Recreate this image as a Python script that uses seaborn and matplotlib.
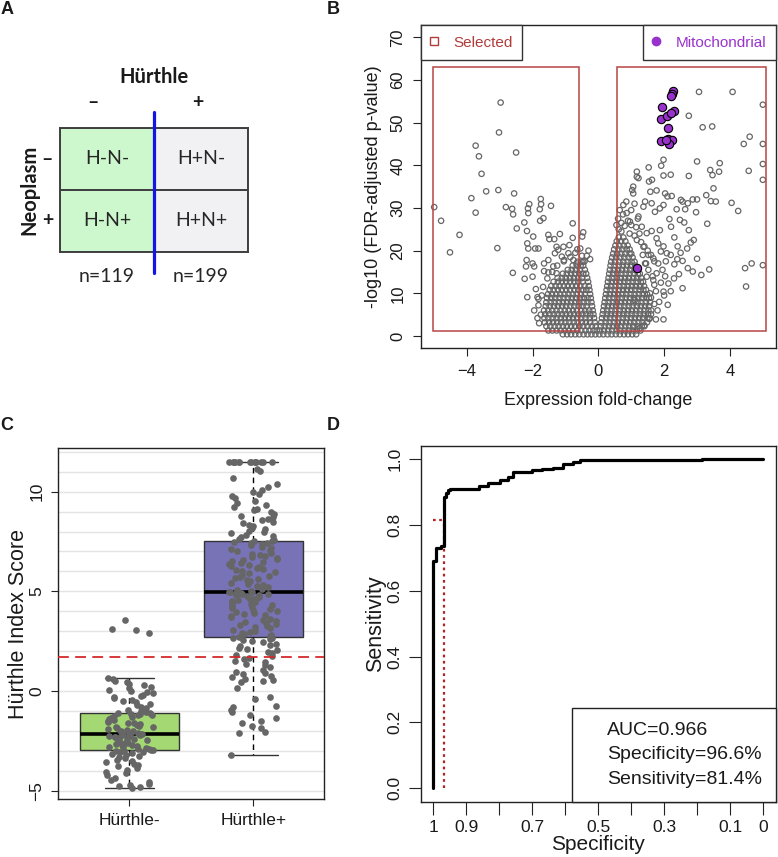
import numpy as np
import pandas as pd
import seaborn as sns
import matplotlib.pyplot as plt
from matplotlib.patches import Rectangle
from matplotlib.lines import Line2D
from matplotlib.colors import ListedColormap
from matplotlib.ticker import MultipleLocator

# ---- panel A: Hurthle / neoplasm design table
design_rows = ['–', '+']
design_cols = ['–', '+']
design_labels = [['H-N-', 'H+N-'], ['H-N+', 'H+N+']]
design_group = [[0, 1], [0, 1]]
design_n = ['n=119', 'n=199']

# ---- panel B: volcano plot (fold-change, -log10 FDR)
outlier_genes = [
    (-4.99, 30.2), (-4.78, 27.0), (-4.22, 23.7), (-4.51, 19.6), (-2.97, 54.7), (-3.02, 47.7),
    (-3.73, 44.6), (-3.63, 42.1), (-2.50, 43.0), (-3.55, 38.0), (-3.41, 33.9), (-3.04, 34.2),
    (-2.56, 33.4), (-3.86, 32.3), (-3.73, 28.9), (-3.07, 20.6), (-2.81, 30.2), (-2.62, 29.8),
    (-2.59, 28.5), (-2.48, 25.2), (-2.25, 26.6), (-2.13, 28.8), (-2.14, 29.9), (-2.10, 30.9),
    (-1.75, 32.1), (-1.74, 30.9), (-1.78, 29.7), (-1.44, 30.5), (-1.77, 27.0), (-1.67, 27.6),
    (-2.17, 24.6), (-1.98, 23.3), (-2.16, 21.7), (-2.13, 20.5), (-1.82, 20.5), (-1.52, 23.7),
    (-1.49, 22.7), (-1.34, 22.7), (-1.17, 23.9), (-0.78, 26.4), (-0.78, 23.0), (-0.46, 24.3),
    (-0.49, 23.3), (-0.64, 20.3), (-2.18, 17.8), (-2.20, 16.3), (-2.00, 17.0), (-1.95, 16.3),
    (-2.60, 14.8), (-2.24, 13.4), (-2.00, 13.9), (-2.16, 9.1), (-1.85, 9.1), (-1.82, 8.7),
    (-1.65, 17.0), (-1.65, 15.2), (-1.52, 14.9), (-1.27, 20.9), (-1.22, 20.2), (-1.11, 18.6),
    (-1.04, 17.8), (-0.91, 19.4), (-0.88, 21.3), (-0.66, 17.0), (-0.76, 17.8), (-0.46, 17.4),
    (-0.35, 18.8), (-1.52, 17.8), (-1.37, 16.3), (-1.27, 14.7), (-1.92, 20.5), (-1.32, 19.4),
    (-1.06, 20.9), (-1.80, 3.0), (-1.75, 5.0), (-1.82, 7.2), (-1.72, 9.5), (-1.68, 11.5),
    (-1.55, 13.5), (-1.40, 15.0), (-1.25, 16.5), (-1.05, 17.5), (-0.85, 18.5), (-0.70, 19.5),
    (-0.55, 20.5), (-0.50, 18.8), (-0.42, 17.5), (-1.90, 11.0), (-1.95, 6.0), (-1.85, 4.2),
    (-0.30, 20.0), (-0.25, 18.0),
    (3.06, 57.2), (4.08, 57.2), (5.00, 54.2), (2.75, 51.6), (3.17, 48.9), (3.46, 49.1),
    (4.60, 46.7), (4.42, 45.0), (5.00, 45.0), (5.00, 40.3), (5.00, 36.6), (4.57, 38.7),
    (3.00, 40.9), (3.69, 40.5), (3.40, 38.9), (3.67, 38.5), (3.47, 37.7), (2.75, 37.5),
    (1.98, 41.3), (1.91, 39.9), (2.20, 37.8), (1.98, 37.6), (1.53, 39.5), (1.17, 38.5),
    (1.17, 37.3), (1.22, 37.0), (1.06, 35.0), (1.03, 34.2), (1.06, 33.4), (1.54, 36.2),
    (1.63, 36.6), (1.58, 33.8), (1.77, 34.1), (2.03, 33.4), (2.10, 32.7), (2.23, 32.8),
    (2.51, 31.9), (2.56, 31.5), (2.72, 31.1), (2.87, 32.0), (3.00, 32.0), (3.28, 33.0),
    (3.50, 34.6), (3.42, 31.6), (3.57, 31.5), (4.05, 31.2), (4.25, 29.3), (2.97, 29.0),
    (3.31, 26.3), (2.75, 24.8), (2.81, 21.9), (2.38, 29.7), (2.64, 29.7), (2.48, 27.2),
    (2.61, 26.6), (2.16, 27.4), (2.21, 25.6), (2.31, 23.1), (2.41, 21.0), (1.98, 21.0),
    (2.08, 19.4), (2.31, 16.8), (2.56, 17.6), (2.72, 15.9), (2.87, 15.1), (3.00, 18.1),
    (3.13, 14.3), (3.37, 15.6), (2.56, 11.2), (2.11, 7.3), (1.75, 3.9), (1.98, 3.9),
    (4.49, 11.6), (4.46, 15.9), (4.66, 17.0), (5.00, 16.6), (1.62, 24.6), (1.77, 22.9),
    (1.87, 24.8), (1.82, 21.7), (1.37, 30.3), (1.42, 31.5), (1.62, 31.1), (1.72, 29.1),
    (1.87, 29.9), (1.98, 30.7), (0.76, 30.7), (0.86, 28.8), (0.96, 26.8), (1.22, 28.0),
    (1.32, 25.6), (1.47, 24.1), (1.17, 22.5), (1.37, 20.9), (1.52, 19.0), (1.67, 18.2),
    (1.82, 17.0), (1.95, 15.5), (2.03, 14.0), (2.13, 12.3), (1.98, 10.4), (1.57, 10.0),
    (1.67, 13.1), (1.77, 14.7), (1.52, 15.5), (1.42, 17.0), (1.47, 13.9), (1.27, 11.6),
    (1.11, 8.4), (1.06, 2.2), (0.55, 26.0), (0.62, 25.0), (0.70, 24.5), (0.80, 25.8),
    (0.90, 27.0), (0.75, 28.5), (0.65, 29.5), (1.00, 26.0), (0.95, 24.0), (1.10, 23.5),
    (1.15, 25.5), (1.25, 24.0), (1.30, 22.0), (1.40, 21.0), (1.50, 20.0), (1.60, 19.0),
    (1.70, 17.5), (1.35, 19.0), (1.45, 17.0), (1.65, 14.0), (1.70, 12.0), (1.75, 10.5),
    (1.60, 9.0), (1.70, 7.5), (1.80, 6.0), (1.55, 4.0), (1.40, 2.5), (1.25, 1.8),
    (1.85, 8.0), (1.90, 12.5), (2.00, 9.5), (2.20, 10.5), (2.30, 13.5), (2.45, 14.5),
    (2.50, 19.5), (2.70, 20.5), (2.90, 22.5), (2.20, 19.0), (1.90, 19.8), (2.05, 17.5),
    (2.40, 18.0), (1.20, 27.5), (0.85, 31.5), (1.00, 29.5), (1.10, 31.0), (0.60, 27.5),
    (0.70, 26.5),
]
# dense centre of the volcano, read row by row (-log10 p, fold-changes)
core_p = [0.4, 1.3, 2.3, 3.2, 4.2, 5.1, 6.0, 7.0, 7.9, 8.9, 9.8, 10.8, 11.7,
          12.7, 13.6, 14.6, 15.5, 16.5, 17.4, 18.4, 19.3, 20.3, 21.2, 22.2, 23.1]
core_fc_left = [
    [-1.08, -0.95, -0.83, -0.70, -0.58, -0.45, -0.33, -0.21, -0.09],
    [-1.52, -1.40, -1.27, -1.15, -1.02, -0.90, -0.77, -0.64, -0.52, -0.39, -0.27, -0.15, -0.05],
    [-1.58, -1.46, -1.33, -1.21, -1.08, -0.96, -0.83, -0.71, -0.58, -0.46, -0.33, -0.20, -0.08],
    [-1.63, -1.50, -1.38, -1.25, -1.13, -1.00, -0.88, -0.75, -0.63, -0.50, -0.38, -0.25, -0.11],
    [-1.64, -1.52, -1.39, -1.27, -1.14, -1.02, -0.89, -0.77, -0.64, -0.52, -0.39, -0.26, -0.13],
    [-1.62, -1.49, -1.36, -1.24, -1.11, -0.99, -0.86, -0.74, -0.61, -0.49, -0.37, -0.25, -0.15],
    [-1.65, -1.52, -1.40, -1.27, -1.15, -1.02, -0.90, -0.77, -0.65, -0.52, -0.40, -0.28, -0.17],
    [-1.60, -1.48, -1.35, -1.23, -1.10, -0.98, -0.85, -0.73, -0.60, -0.48, -0.36, -0.19],
    [-1.58, -1.45, -1.33, -1.20, -1.08, -0.95, -0.83, -0.70, -0.58, -0.45, -0.33, -0.21],
    [-1.56, -1.43, -1.31, -1.18, -1.06, -0.93, -0.81, -0.68, -0.56, -0.44, -0.33, -0.23],
    [-1.53, -1.41, -1.28, -1.16, -1.03, -0.91, -0.78, -0.66, -0.53, -0.41, -0.25],
    [-1.48, -1.36, -1.23, -1.11, -0.98, -0.86, -0.73, -0.61, -0.48, -0.37, -0.27],
    [-1.43, -1.30, -1.18, -1.05, -0.93, -0.80, -0.68, -0.55, -0.42, -0.29],
    [-1.36, -1.23, -1.11, -0.98, -0.86, -0.73, -0.61, -0.48, -0.31],
    [-1.24, -1.11, -0.99, -0.86, -0.74, -0.61, -0.49, -0.34],
    [-1.08, -0.96, -0.83, -0.71, -0.58, -0.46, -0.37],
    [-0.93, -0.81, -0.68, -0.56, -0.41],
    [-0.78, -0.66, -0.54, -0.46],
    [-0.63, -0.51],
    [], [], [], [], [], [],
]
core_fc_right = [
    [0.03, 0.15, 0.28, 0.40, 0.53, 0.65, 0.78, 0.90, 1.03, 1.15],
    [0.05, 0.17, 0.30, 0.42, 0.55, 0.67, 0.80, 0.92, 1.05, 1.17, 1.28],
    [0.07, 0.19, 0.32, 0.44, 0.57, 0.69, 0.82, 0.94, 1.07, 1.19, 1.32, 1.40],
    [0.09, 0.22, 0.34, 0.47, 0.59, 0.72, 0.84, 0.97, 1.09, 1.22, 1.34, 1.48],
    [0.11, 0.24, 0.36, 0.49, 0.61, 0.74, 0.86, 0.99, 1.11, 1.24, 1.36, 1.49, 1.56],
    [0.13, 0.26, 0.38, 0.51, 0.63, 0.76, 0.88, 1.01, 1.13, 1.26, 1.38, 1.51, 1.60],
    [0.15, 0.27, 0.40, 0.52, 0.65, 0.77, 0.90, 1.02, 1.15, 1.27, 1.40, 1.52, 1.61],
    [0.17, 0.29, 0.42, 0.54, 0.67, 0.79, 0.92, 1.04, 1.17, 1.29, 1.42, 1.54],
    [0.19, 0.31, 0.44, 0.56, 0.69, 0.81, 0.94, 1.06, 1.19, 1.31, 1.44, 1.57],
    [0.21, 0.33, 0.46, 0.58, 0.71, 0.83, 0.96, 1.08, 1.21, 1.33, 1.46, 1.54],
    [0.23, 0.35, 0.48, 0.60, 0.73, 0.85, 0.98, 1.10, 1.23, 1.35, 1.48],
    [0.25, 0.37, 0.50, 0.62, 0.75, 0.87, 1.00, 1.12, 1.25, 1.37, 1.45],
    [0.27, 0.39, 0.52, 0.64, 0.77, 0.89, 1.02, 1.14, 1.27, 1.39],
    [0.29, 0.41, 0.54, 0.66, 0.79, 0.91, 1.04, 1.16, 1.29, 1.36],
    [0.31, 0.43, 0.56, 0.68, 0.81, 0.93, 1.06, 1.18, 1.30],
    [0.33, 0.45, 0.58, 0.70, 0.83, 0.95, 1.08, 1.20, 1.26],
    [0.35, 0.47, 0.60, 0.72, 0.85, 0.97, 1.10, 1.20],
    [0.37, 0.49, 0.62, 0.74, 0.87, 0.99, 1.12],
    [0.39, 0.51, 0.64, 0.76, 0.89, 1.01, 1.10],
    [0.42, 0.54, 0.67, 0.79, 0.92, 1.04],
    [0.45, 0.57, 0.70, 0.82, 0.95, 1.00],
    [0.48, 0.61, 0.73, 0.86, 0.95],
    [0.52, 0.64, 0.77, 0.89],
    [0.56, 0.69, 0.82],
    [0.62, 0.76],
]
mito_genes = [
    (2.28, 57.3), (2.25, 56.6), (2.21, 56.2), (1.93, 53.7), (1.90, 50.9), (2.10, 51.6),
    (2.31, 52.7), (2.20, 52.2), (2.11, 48.7), (1.91, 45.8), (2.13, 46.2), (2.25, 46.0),
    (2.15, 45.0), (2.06, 45.9), (1.17, 15.9),
]
sel_fc = [(-5.02, -0.58), (0.58, 5.10)]
sel_p = (1.17, 63.0)

# ---- panel C: Hurthle index score
score_neg = [
    -4.85, -4.80, -4.77, -4.71, -4.64, -4.55, -4.46, -4.37, -4.21, -4.09, -4.03, -3.94,
    -3.86, -3.77, -3.70, -3.63, -3.56, -3.49, -3.43, -3.37, -3.31, -3.25, -3.20, -3.15,
    -3.11, -3.07, -3.03, -3.00, -2.98, -2.96, -2.95, -2.91, -2.88, -2.85, -2.81, -2.78,
    -2.74, -2.71, -2.68, -2.64, -2.61, -2.58, -2.55, -2.51, -2.48, -2.45, -2.42, -2.39,
    -2.36, -2.33, -2.30, -2.28, -2.25, -2.23, -2.21, -2.19, -2.18, -2.17, -2.16, -2.15,
    -2.13, -2.10, -2.06, -2.02, -1.98, -1.94, -1.90, -1.86, -1.82, -1.78, -1.74, -1.70,
    -1.66, -1.62, -1.58, -1.54, -1.50, -1.46, -1.42, -1.38, -1.34, -1.30, -1.26, -1.22,
    -1.18, -1.15, -1.13, -1.11, -1.09, -1.07, -1.00, -0.93, -0.85, -0.78, -0.70, -0.62,
    -0.55, -0.48, -0.42, -0.36, -0.30, -0.24, -0.17, -0.10, -0.04, 0.02, 0.08, 0.15,
    0.22, 0.30, 0.38, 0.45, 0.52, 0.60, 0.65, 2.90, 3.08, 3.12, 3.55,
]
score_pos = [
    -3.18, -2.12, -2.05, -1.85, -1.75, -1.62, -1.48, -1.35, -1.20, -1.05, -0.95, -0.80,
    -0.72, -0.40, -0.30, 0.18, 0.45, 0.52, 0.58, 0.62, 0.70, 0.75, 0.88, 0.92, 0.95,
    1.05, 1.22, 1.30, 1.38, 1.45, 1.52, 1.60, 1.68, 1.75, 1.82, 1.90, 1.98, 2.05, 2.12,
    2.18, 2.25, 2.30, 2.38, 2.44, 2.50, 2.55, 2.60, 2.64, 2.68, 2.72,
    2.74, 2.80, 2.85, 2.90, 2.96, 3.02, 3.08, 3.14, 3.20, 3.25, 3.30, 3.36, 3.42, 3.48,
    3.53, 3.58, 3.64, 3.70, 3.75, 3.80, 3.85, 3.90, 3.95, 4.00, 4.05, 4.10, 4.15, 4.20,
    4.25, 4.30, 4.35, 4.40, 4.44, 4.48, 4.52, 4.56, 4.60, 4.64, 4.68, 4.72, 4.76, 4.80,
    4.83, 4.86, 4.88, 4.90, 4.92, 4.94, 4.95, 4.96,
    4.98, 5.02, 5.08, 5.14, 5.20, 5.26, 5.32, 5.38, 5.44, 5.50, 5.55, 5.60, 5.66, 5.72,
    5.78, 5.84, 5.90, 5.95, 6.00, 6.05, 6.10, 6.15, 6.20, 6.25, 6.30, 6.35, 6.40, 6.45,
    6.50, 6.55, 6.60, 6.65, 6.70, 6.76, 6.82, 6.88, 6.94, 7.00, 7.06, 7.12, 7.18, 7.24,
    7.30, 7.35, 7.40, 7.44, 7.48, 7.51, 7.53,
    7.55, 7.62, 7.70, 7.78, 7.85, 7.92, 8.00, 8.05, 8.12, 8.20, 8.28, 8.35, 8.42, 8.50,
    8.58, 8.65, 8.72, 8.80, 8.90, 9.00, 9.08, 9.15, 9.25, 9.35, 9.45, 9.55, 9.68, 9.80,
    9.90, 10.00, 10.10, 10.25, 10.40, 10.70, 11.05, 11.15,
    11.5, 11.5, 11.5, 11.5, 11.5, 11.5, 11.5, 11.5, 11.5, 11.5, 11.5, 11.5, 11.5, 11.5,
]
score_groups = ['Hürthle-', 'Hürthle+']
score_cutoff = 1.73

# ---- panel D: ROC curve
roc_spec = [1, 1, .993, .993, .978, .978, .967, .967, .962, .962, .955, .955, .949, .949,
            .86, .86, .833, .833, .798, .798, .773, .773, .758, .758, .702, .702, .67, .67,
            .637, .637, .607, .607, .576, .576, .556, .556, .187, .187, 0]
roc_sens = [0, .689, .689, .73, .73, .735, .735, .885, .885, .897, .897, .905, .905, .91,
            .91, .917, .917, .929, .929, .937, .937, .945, .945, .962, .962, .967, .967, .97,
            .97, .974, .974, .986, .986, .99, .99, .996, .996, 1.0, 1.0]
cut_spec, cut_sens = 0.966, 0.814
roc_text = ['AUC=0.966', 'Specificity=96.6%', 'Sensitivity=81.4%']

sns.set_style('white')
plt.rcParams['font.family'] = ['Liberation Sans', 'DejaVu Sans']
plt.rcParams['text.color'] = '#1a1a1a'
plt.rcParams['axes.labelcolor'] = '#1a1a1a'
plt.rcParams['xtick.color'] = '#1a1a1a'
plt.rcParams['ytick.color'] = '#1a1a1a'

W, H = 778, 857
fig = plt.figure(figsize=(W / 100, H / 100), dpi=100)


def px_axes(left, top, right, bottom):
    return fig.add_axes([left / W, 1 - bottom / H, (right - left) / W, (bottom - top) / H])


def r_frame(ax, tick_len):
    for s in ax.spines.values():
        s.set_visible(True)
        s.set_color('#222222')
        s.set_linewidth(1.0)
    ax.tick_params(direction='out', length=tick_len, width=0.8, color='#222222',
                   bottom=True, left=True)
    for lab in ax.get_yticklabels():
        lab.set_rotation(90)
        lab.set_va('center')


sel_red = '#b23b3b'
purple = '#9932cc'
gray = '#666666'

# panel A
axA = px_axes(60, 128, 248, 252)
cells = pd.DataFrame(design_group, index=design_rows, columns=design_cols)
sns.heatmap(cells, annot=np.array(design_labels), fmt='', cbar=False,
            cmap=ListedColormap(['#cdf8cd', '#f1f1f4']), linewidths=1.2, linecolor='#404040',
            annot_kws=dict(fontsize=14, color='#262626', family='Lato'), ax=axA)
for s in axA.spines.values():
    s.set_visible(True)
    s.set_color('#404040')
    s.set_linewidth(1.4)
axA.xaxis.tick_top()
axA.xaxis.set_label_position('top')
axA.set_xticks([0.35, 1.47])
axA.set_xticklabels(design_cols, fontsize=14, fontweight='bold', family='Lato')
axA.set_yticklabels(design_rows, fontsize=14, fontweight='bold', family='Lato', rotation=0)
axA.tick_params(length=0)
axA.tick_params(axis='x', pad=12)
axA.tick_params(axis='y', pad=5)
axA.set_xlabel('Hürthle', fontsize=14.5, fontweight='bold', family='Lato', labelpad=8)
axA.set_ylabel('Neoplasm', fontsize=14.5, fontweight='bold', family='Lato', labelpad=2)
axA.axvline(1, ymin=-0.17, ymax=1.13, color='#1414e6', lw=2.3, clip_on=False, zorder=5)
for i, n in enumerate(design_n):
    axA.text(i + 0.5, 2.39, n, ha='center', va='center', fontsize=14, color='#262626',
             family='Lato')

# panel B
axB = px_axes(420.7, 25.3, 776, 348.3)
genes = pd.DataFrame(outlier_genes, columns=['fc', 'p'])
core = pd.DataFrame([(fc, p) for p, row in zip(core_p, core_fc_left) for fc in row] +
                    [(fc, p) for p, row in zip(core_p, core_fc_right) for fc in row],
                    columns=['fc', 'p'])
genes = pd.concat([core, genes], ignore_index=True)
mito = pd.DataFrame(mito_genes, columns=['fc', 'p'])
sns.scatterplot(data=genes, x='fc', y='p', marker='o', s=15, facecolor='none',
                edgecolor=gray, linewidth=0.9, ax=axB)
sns.scatterplot(data=mito, x='fc', y='p', marker='o', s=36, color=purple,
                edgecolor='black', linewidth=0.8, ax=axB, zorder=4)
for x0, x1 in sel_fc:
    axB.add_patch(Rectangle((x0, sel_p[0]), x1 - x0, sel_p[1] - sel_p[0], fill=False,
                            ec='#b84444', lw=1.1, zorder=5))
axB.set_xlim(-5.4, 5.4)
axB.set_ylim(-2.88, 72.8)
axB.set_xticks([-4, -2, 0, 2, 4])
axB.set_yticks(range(0, 71, 10))
axB.tick_params(labelsize=12, pad=5)
axB.set_xlabel('Expression fold-change', fontsize=13, labelpad=10)
axB.set_ylabel('-log10 (FDR-adjusted p-value)', fontsize=13, labelpad=6)
r_frame(axB, 6)
leg_kw = dict(borderaxespad=0, fancybox=False, framealpha=1, edgecolor='#333333',
              fontsize=11, borderpad=0.6, handlelength=0.5, handleheight=1.2,
              handletextpad=1.05)
h_sel = Line2D([], [], marker='s', ls='none', mfc='none', mec=sel_red, ms=6, mew=1)
h_mito = Line2D([], [], marker='o', ls='none', mfc=purple, mec=purple, ms=6)
leg1 = axB.legend([h_sel], ['Selected'], loc='upper left', labelcolor=sel_red, **leg_kw)
leg1.get_frame().set_linewidth(1.0)
axB.add_artist(leg1)
leg2 = axB.legend([h_mito], ['Mitochondrial'], loc='upper right', labelcolor=purple, **leg_kw)
leg2.get_frame().set_linewidth(1.0)

# panel C
axC = px_axes(58.3, 448.3, 324.3, 799.3)
scores = pd.DataFrame({'group': [score_groups[0]] * len(score_neg) + [score_groups[1]] * len(score_pos),
                       'score': score_neg + score_pos})
axC.yaxis.set_minor_locator(MultipleLocator(1))
axC.grid(axis='y', which='both', color='#e4e4e4', lw=1.0)
axC.set_axisbelow(True)
sns.boxplot(data=scores, x='group', y='score', hue='group', order=score_groups,
            palette=['#a3d873', '#7872b6'], saturation=1, width=0.8, showfliers=False,
            linecolor='#333333', linewidth=1.0, legend=False,
            medianprops=dict(color='black', linewidth=2.6),
            whiskerprops=dict(color='black', linestyle=(0, (4, 3))),
            capprops=dict(color='#333333'), ax=axC)
np.random.seed(3)
sns.stripplot(data=scores, x='group', y='score', order=score_groups, color=gray, size=4.8,
              jitter=0.2, ax=axC, zorder=3)
axC.axhline(score_cutoff, color='#d42a2a', lw=1.3, ls=(0, (6, 3.5)), zorder=4)
axC.set_xlim(-0.573, 1.573)
axC.set_ylim(-5.42, 12.17)
axC.set_yticks([-5, 0, 5, 10])
axC.tick_params(labelsize=12.5, pad=5)
axC.tick_params(axis='y', which='minor', length=0)
axC.set_xlabel('')
axC.set_ylabel('Hürthle Index Score', fontsize=15.5, labelpad=0)
r_frame(axC, 5)

# panel D
axD = px_axes(420.7, 446, 776, 801.7)
sns.lineplot(x=roc_spec, y=roc_sens, sort=False, estimator=None, color='black', lw=2.3,
             ax=axD, zorder=3)
axD.hlines(cut_sens, 1, cut_spec, color='#b22222', lw=1.6, ls=(0, (1.2, 1.6)))
axD.vlines(cut_spec, 0, cut_sens, color='#b22222', lw=1.6, ls=(0, (1.2, 1.6)))
axD.set_xlim(1.038, -0.038)
axD.set_ylim(-0.041, 1.04)
spec_ticks = [1, 0.9, 0.8, 0.7, 0.6, 0.5, 0.4, 0.3, 0.2, 0.1, 0]
axD.set_xticks(spec_ticks)
axD.set_xticklabels(['1', '0.9', '', '0.7', '', '0.5', '', '0.3', '', '0.1', '0'])
axD.set_yticks([0, 0.2, 0.4, 0.6, 0.8, 1.0])
axD.set_yticklabels(['0.0', '0.2', '0.4', '0.6', '0.8', '1.0'])
axD.tick_params(labelsize=12.5, pad=4)
axD.set_xlabel('Specificity', fontsize=15, labelpad=0)
axD.set_ylabel('Sensitivity', fontsize=15.5, labelpad=1)
r_frame(axD, 9)
blank = [Line2D([], [], ls='none')] * 3
legD = axD.legend(blank, roc_text, loc='lower right', borderaxespad=0, fancybox=False,
                  framealpha=1, edgecolor='#222222', fontsize=14, borderpad=0.7,
                  handlelength=0.75, handletextpad=0.37, labelspacing=0.36)
legD.get_frame().set_linewidth(1.0)

for lab, (x, y) in zip('ABCD', [(7, 10), (333, 9), (7, 425), (333, 425)]):
    fig.text(x / W, 1 - y / H, lab, fontsize=13, fontweight='bold', ha='center', va='center')

fig.savefig('out.png', dpi=100)
